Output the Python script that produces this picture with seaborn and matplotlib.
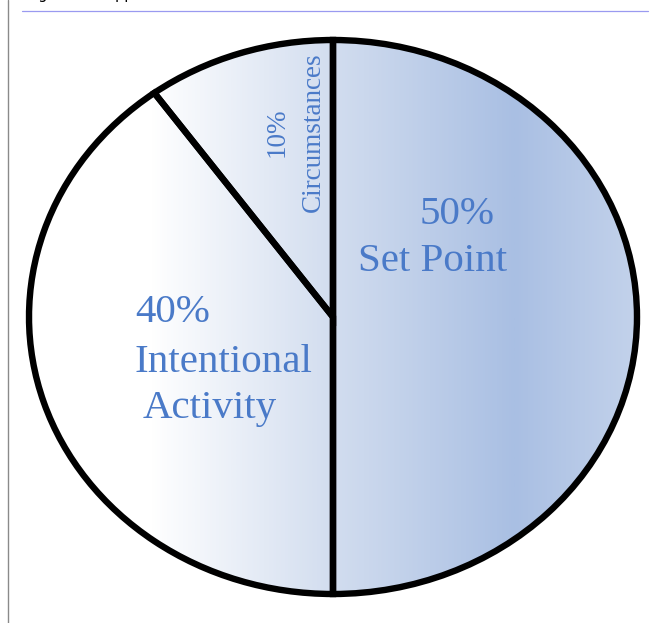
import numpy as np
import matplotlib
matplotlib.use("Agg")
import matplotlib.pyplot as plt
from matplotlib.colors import LinearSegmentedColormap
from matplotlib.patches import Circle
import seaborn as sns

# ---- data ----
categories = ["Set Point", "Intentional Activity", "Circumstances"]
values = [50, 40, 10]
pct_labels = ["50%", "40%", "10%"]

sns.set_theme(style="white")
plt.rcParams["font.family"] = ["Liberation Serif", "DejaVu Serif"]

W, H = 654, 623
fig = plt.figure(figsize=(W / 100, H / 100), dpi=100)
fig.patch.set_facecolor("white")

# pie axes placed on ellipse bounding box (pixel coords)
cx, cy, rx, ry = 333, 317, 304, 277
pad = 1.04
left = (cx - rx * pad) / W
bottom = (H - (cy + ry * pad)) / H
ax = fig.add_axes([left, bottom, 2 * rx * pad / W, 2 * ry * pad / H])

wedges, _ = ax.pie(values, startangle=90, counterclock=False, radius=1,
                   colors=["none"] * 3,
                   wedgeprops=dict(edgecolor="black", linewidth=4.6, fill=False))
ax.set_aspect("auto")
ax.set_xlim(-pad, pad)
ax.set_ylim(-pad, pad)
ax.axis("off")

# horizontal gradient fill clipped to the pie
cmap = LinearSegmentedColormap.from_list(
    "grad",
    [(0.0, "#ffffff"), (0.2, "#ffffff"), (0.5, "#d2ddef"),
     (0.8, "#a9bfe3"), (1.0, "#c3d2eb")])
grad = np.linspace(0, 1, 512).reshape(1, -1)
im = ax.imshow(grad, cmap=cmap, extent=(-1, 1, -1, 1), aspect="auto",
               interpolation="bilinear", zorder=0)
clip = Circle((0, 0), 1, transform=ax.transData)
im.set_clip_path(clip)
for w in wedges:
    w.set_zorder(2)
    w.set_clip_on(False)

# overlay axes in pixel coordinates for decorations and labels
ov = fig.add_axes([0, 0, 1, 1], zorder=3)
ov.set_xlim(0, W)
ov.set_ylim(H, 0)
ov.patch.set_alpha(0)
ov.axis("off")

ov.plot([8, 8], [0, H], color="#8a8a8a", lw=1.0)
ov.plot([22, 648], [10.5, 10.5], color="#9a9af0", lw=0.9)
ov.text(27, -1, "Figure 1: Happiness Pie", fontsize=10.5, color="black",
        family=["DejaVu Sans"], ha="left", va="baseline", clip_on=False)

tc = "#4a7ac8"
big = 29.5
ov.text(457, 224, pct_labels[0], fontsize=big, color=tc, ha="center", va="baseline")
ov.text(433, 271, categories[0], fontsize=big, color=tc, ha="center", va="baseline")
ov.text(135, 322, pct_labels[1], fontsize=big, color=tc, ha="left", va="baseline")
ov.text(135, 372, "Intentional", fontsize=big, color=tc, ha="left", va="baseline")
ov.text(143, 418, "Activity", fontsize=big, color=tc, ha="left", va="baseline")

small = 19.5
ov.text(277, 132, pct_labels[2], fontsize=small, color=tc, rotation=90,
        ha="center", va="center")
ov.text(313, 132, categories[2], fontsize=small, color=tc, rotation=90,
        ha="center", va="center")

fig.savefig("out.png", dpi=100)
